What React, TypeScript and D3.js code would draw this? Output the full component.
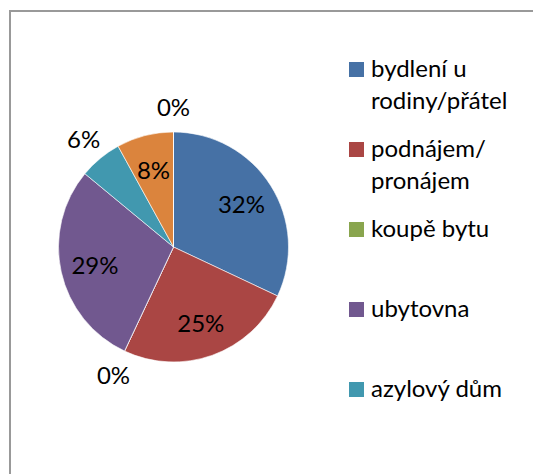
import React from "react";
import * as d3 from "d3";

// categories in pie order (clockwise from 12 o'clock)
const categories = [
  "bydlení u rodiny/přátel",
  "podnájem/pronájem",
  "koupě bytu",
  "ubytovna",
  "azylový dům",
  "vlastní byt",
  "jiné",
];
const values = [32, 25, 0, 29, 6, 8, 0];
const colors = ["#4671A5", "#AA4644", "#89A54E", "#71588F", "#4198AF", "#DB843D", "#93A9CF"];
// legend lines as shown (the legend is cut after five entries)
const legendLines = [
  ["bydlení u", "rodiny/přátel"],
  ["podnájem/", "pronájem"],
  ["koupě bytu"],
  ["ubytovna"],
  ["azylový dům"],
];

const W = 533;
const H = 474;
const cx = 173.5;
const cy = 247;
const r = 115;
const font = "Lato, 'Open Sans', sans-serif";

export default function App() {
  const data = categories.map((c, i) => ({ name: c, value: values[i], color: colors[i] }));
  const pie = d3.pie<any>().value(d => d.value).sort(null);
  const arcs = pie(data);
  const arc = d3.arc<any>().innerRadius(0).outerRadius(r);
  const inner = d3.arc<any>().innerRadius(r * 0.7).outerRadius(r * 0.7);
  const outer = d3.arc<any>().innerRadius(r + 26).outerRadius(r + 26);
  const total = d3.sum(values);

  const legendY = d3.scaleLinear().domain([0, 1]).range([77, 157]);

  return (
    <svg width={W} height={H} style={{ position: "absolute", left: 0, top: 0 }}>
      <rect x={0} y={0} width={W} height={H} fill="#fff" />
      <rect x={10} y={11} width={W + 20} height={H + 20} fill="#fff" stroke="#999" strokeWidth={2} />
      <g transform={`translate(${cx},${cy})`}>
        {arcs.map((a, i) => (
          <path key={i} d={arc(a) || ""} fill={a.data.color} stroke="#fff" strokeWidth={0.6} />
        ))}
        {arcs.map((a, i) => {
          const small = a.data.value / total < 0.07;
          const [x, y] = small ? outer.centroid(a) : inner.centroid(a);
          return (
            <text
              key={"l" + i}
              x={x}
              y={y}
              textAnchor="middle"
              dominantBaseline="central"
              fontFamily={font}
              fontSize={24}
              fill="#000"
            >
              {Math.round((a.data.value / total) * 100)}%
            </text>
          );
        })}
      </g>
      <g>
        {legendLines.map((lines, i) => (
          <g key={i} transform={`translate(349,${legendY(i)})`}>
            <rect x={0} y={-15} width={15} height={15} fill={colors[i]} />
            {lines.map((t, j) => (
              <text key={j} x={22} y={j * 32} fontFamily={font} fontSize={24} fill="#000">
                {t}
              </text>
            ))}
          </g>
        ))}
      </g>
    </svg>
  );
}
